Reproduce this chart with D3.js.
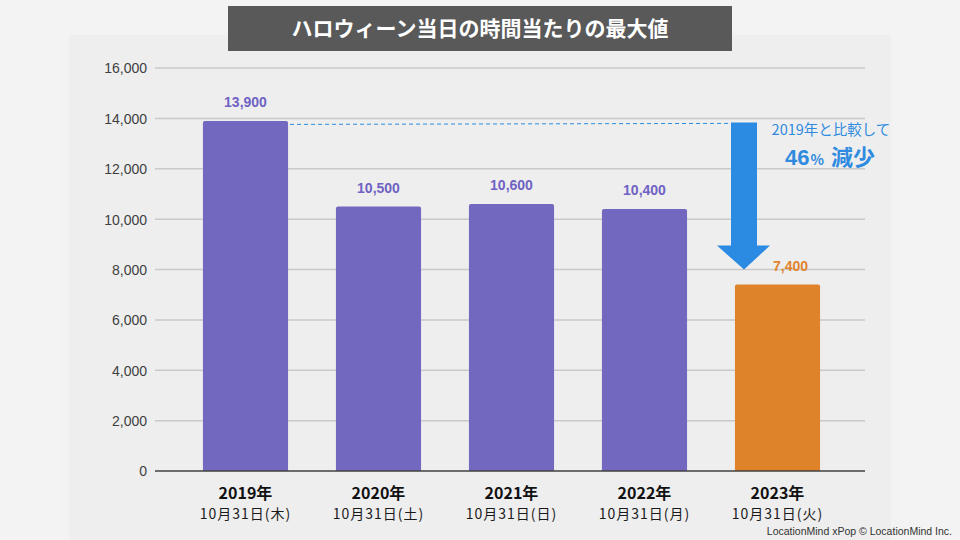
<!DOCTYPE html>
<html><head><meta charset="utf-8">
<script src="https://cdn.jsdelivr.net/npm/d3@7"></script>
<style>
html,body{margin:0;padding:0;background:#f3f3f3;}
svg{display:block;}
</style></head>
<body>
<svg id="c" width="960" height="540"></svg>
<script>
const title = "ハロウィーン当日の時間当たりの最大値";
const years = ["2019年", "2020年", "2021年", "2022年", "2023年"];
const dates = ["10月31日(木)", "10月31日(土)", "10月31日(日)", "10月31日(月)", "10月31日(火)"];
const values = [13900, 10500, 10600, 10400, 7400];
const yTicks = [0, 2000, 4000, 6000, 8000, 10000, 12000, 14000, 16000];
const noteLine1 = "2019年と比較して";
const notePct = "46";
const noteRest = "減少";
const credit = "LocationMind xPop © LocationMind Inc.";

const svg = d3.select("#c");
const JP = "'Noto Sans CJK JP','Noto Sans',sans-serif";
const NUM = "'Liberation Sans',Arial,sans-serif";
const purple = "#7368bf", orange = "#de8329", blue = "#2b8ae2";

// page backgrounds
svg.append("rect").attr("x",0).attr("y",0).attr("width",960).attr("height",540).attr("fill","#f3f3f3");
svg.append("rect").attr("x",69).attr("y",35).attr("width",822).attr("height",505).attr("fill","#eeeeee");

const x = d3.scaleBand().domain(years).range([179, 844]).paddingInner(0.36).paddingOuter(0.18);
const y = d3.scaleLinear().domain([0, 16000]).range([471, 68]);

// gridlines
svg.append("g").selectAll("line").data(yTicks.filter(d=>d>0)).join("line")
  .attr("x1",155).attr("x2",865).attr("y1",d=>y(d)).attr("y2",d=>y(d))
  .attr("stroke","#c9c9c9").attr("stroke-width",1.5);

// y axis labels
const yAxis = d3.axisLeft(y).tickValues(yTicks).tickFormat(d3.format(",")).tickSize(0).tickPadding(0);
const ya = svg.append("g").attr("transform","translate(147,0)").call(yAxis);
ya.select(".domain").remove();
ya.selectAll("text").attr("font-family",NUM).attr("font-size",14).attr("fill","#404040").attr("dy","0.35em");

// bars
const bw = x.bandwidth();
svg.append("g").selectAll("path").data(values).join("path")
  .attr("d",(d,i)=>{
    const x0=x(years[i]), y0=y(d), h=y(0)-y(d), r=2;
    return `M${x0},${y0+h}V${y0+r}Q${x0},${y0} ${x0+r},${y0}H${x0+bw-r}Q${x0+bw},${y0} ${x0+bw},${y0+r}V${y0+h}Z`;
  })
  .attr("fill",(d,i)=>i===values.length-1?orange:purple);

// baseline
svg.append("line").attr("x1",155).attr("x2",865).attr("y1",y(0)).attr("y2",y(0)).attr("stroke","#404040").attr("stroke-width",1.5);

// value labels
svg.append("g").selectAll("text").data(values).join("text")
  .attr("x",(d,i)=>x(years[i])+bw/2 + (i===values.length-1?13:0))
  .attr("y",d=>y(d)-14)
  .attr("text-anchor","middle").attr("font-family",NUM).attr("font-weight","bold").attr("font-size",14)
  .attr("fill",(d,i)=>i===values.length-1?"#e0842c":"#6f62c3")
  .text(d=>d3.format(",")(d));

// dashed reference line
svg.append("line").attr("x1",x(years[0])+bw+2).attr("x2",731).attr("y1",y(values[0])+3.5).attr("y2",y(values[0])+2.5)
  .attr("stroke",blue).attr("stroke-width",1).attr("stroke-dasharray","4,3");

// arrow
const ax = 744, aTop = y(values[0])+1.5, aBase = 245.5, aTip = y(values[4])-15;
svg.append("path")
  .attr("d",`M${ax-13},${aTop}H${ax+13}V${aBase}H${ax+26}L${ax},${aTip}L${ax-27},${aBase}H${ax-13}Z`)
  .attr("fill",blue);

// annotation text
svg.append("text").attr("x",831).attr("y",135).attr("text-anchor","middle")
  .attr("font-family",JP).attr("font-size",14.5).attr("fill","#2f8be0").text(noteLine1);
const t2 = svg.append("text").attr("x",830).attr("y",165).attr("text-anchor","middle")
  .attr("font-family",JP).attr("font-weight","bold").attr("fill","#2f8be0");
t2.append("tspan").attr("font-family",NUM).attr("font-size",22).text(notePct);
t2.append("tspan").attr("font-size",14).attr("dx",1).text("%");
t2.append("tspan").attr("font-size",22).attr("dx",7).text(noteRest);

// x labels
svg.append("g").selectAll("text").data(years).join("text")
  .attr("x",d=>x(d)+bw/2).attr("y",499).attr("text-anchor","middle")
  .attr("font-family",JP).attr("font-weight","bold").attr("font-size",16).attr("fill","#111").text(d=>d);
svg.append("g").selectAll("text").data(dates).join("text")
  .attr("x",(d,i)=>x(years[i])+bw/2).attr("y",519).attr("text-anchor","middle")
  .attr("font-family",JP).attr("font-size",14).attr("letter-spacing",1).attr("fill","#1a1a1a").text(d=>d);

// title
svg.append("rect").attr("x",228).attr("y",6).attr("width",504).attr("height",45).attr("fill","#595959");
svg.append("text").attr("x",480).attr("y",36).attr("text-anchor","middle")
  .attr("font-family",JP).attr("font-weight","bold").attr("font-size",21).attr("fill","#fff").text(title);

// credit
svg.append("text").attr("x",952).attr("y",535).attr("text-anchor","end")
  .attr("font-family",NUM).attr("font-size",10.5).attr("fill","#333").text(credit);
</script>
</body></html>
